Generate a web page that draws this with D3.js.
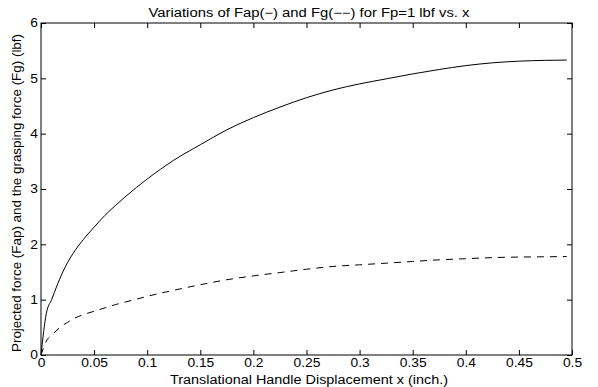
<!DOCTYPE html>
<html><head><meta charset="utf-8">
<script src="https://cdn.jsdelivr.net/npm/d3@7"></script>
<style>body{margin:0;background:#fff}svg{display:block}text{font-family:"Liberation Sans",Arial,sans-serif}</style>
</head><body>
<svg id="c" width="598" height="387"></svg>
<script>
const xs = [0,0.005,0.01,0.015,0.02,0.025,0.03,0.04,0.05,0.06,0.07,0.08,0.09,0.10,0.125,0.15,0.175,0.20,0.225,0.25,0.275,0.30,0.325,0.35,0.375,0.40,0.425,0.45,0.475,0.495];
const fap = [0,0.75,1.0,1.25,1.48,1.67,1.83,2.09,2.31,2.52,2.70,2.87,3.03,3.18,3.52,3.80,4.07,4.29,4.48,4.65,4.79,4.90,4.99,5.08,5.16,5.23,5.28,5.31,5.325,5.33];
const fg  = [0,0.25,0.36,0.45,0.53,0.59,0.65,0.73,0.79,0.85,0.91,0.96,1.01,1.06,1.17,1.27,1.36,1.43,1.49,1.55,1.60,1.63,1.66,1.69,1.72,1.74,1.76,1.77,1.775,1.78];
const xTicks = [0,0.05,0.1,0.15,0.2,0.25,0.3,0.35,0.4,0.45,0.5];
const yTicks = [0,1,2,3,4,5,6];
const title = "Variations of Fap(−) and Fg(−−) for Fp=1 lbf vs. x";
const xLabel = "Translational Handle Displacement x (inch.)";
const yLabel = "Projected force (Fap) and the grasping force (Fg) (lbf)";

const L=41,R=572,T=23,B=355;
const svg=d3.select("#c");
const x=d3.scaleLinear().domain([0,0.5]).range([L,R]);
const y=d3.scaleLinear().domain([0,6]).range([B,T]);
const fs=12, stretch=1.15;

const line=(ys)=>d3.line().x((d,i)=>x(xs[i])).y((d,i)=>y(ys[i])).curve(d3.curveMonotoneX)(xs);
svg.append("path").attr("d",line(fap)).attr("fill","none").attr("stroke","#000").attr("stroke-width",1);
svg.append("path").attr("d",line(fg)).attr("fill","none").attr("stroke","#000").attr("stroke-width",1).attr("stroke-dasharray","7,6");

const tk=5;
const gB=svg.append("g").attr("transform",`translate(0,${B})`).call(d3.axisBottom(x).tickValues(xTicks).tickFormat(d3.format("~g")).tickSizeInner(-tk).tickSizeOuter(0).tickPadding(3));
const gT=svg.append("g").attr("transform",`translate(0,${T})`).call(d3.axisTop(x).tickValues(xTicks).tickFormat("").tickSizeInner(-tk).tickSizeOuter(0));
const gL=svg.append("g").attr("transform",`translate(${L},0)`).call(d3.axisLeft(y).tickValues(yTicks).tickFormat(d3.format("d")).tickSizeInner(-tk).tickSizeOuter(0).tickPadding(3));
const gR=svg.append("g").attr("transform",`translate(${R},0)`).call(d3.axisRight(y).tickValues(yTicks).tickFormat("").tickSizeInner(-tk).tickSizeOuter(0));
[gB,gT,gL,gR].forEach(g=>{g.select(".domain").remove();g.selectAll("line").attr("stroke","#000");g.selectAll("text").attr("font-size",fs).attr("font-family","Liberation Sans, Arial, sans-serif").attr("fill","#000")
  .each(function(){const n=this.getComputedTextLength(); if(n>0){this.setAttribute("textLength",n*stretch);this.setAttribute("lengthAdjust","spacingAndGlyphs");}});});
svg.append("rect").attr("x",L).attr("y",T).attr("width",R-L).attr("height",B-T).attr("fill","none").attr("stroke","#000").attr("stroke-width",1);

svg.append("text").attr("x",309).attr("y",17).attr("text-anchor","middle").attr("font-size",fs).attr("textLength",321).attr("lengthAdjust","spacingAndGlyphs").text(title);
svg.append("text").attr("x",309).attr("y",384).attr("text-anchor","middle").attr("font-size",fs).attr("textLength",278).attr("lengthAdjust","spacingAndGlyphs").text(xLabel);
svg.append("text").attr("transform",`translate(21,${193}) rotate(-90)`).attr("text-anchor","middle").attr("font-size",fs).attr("textLength",318).attr("lengthAdjust","spacingAndGlyphs").text(yLabel);
</script>
</body></html>
